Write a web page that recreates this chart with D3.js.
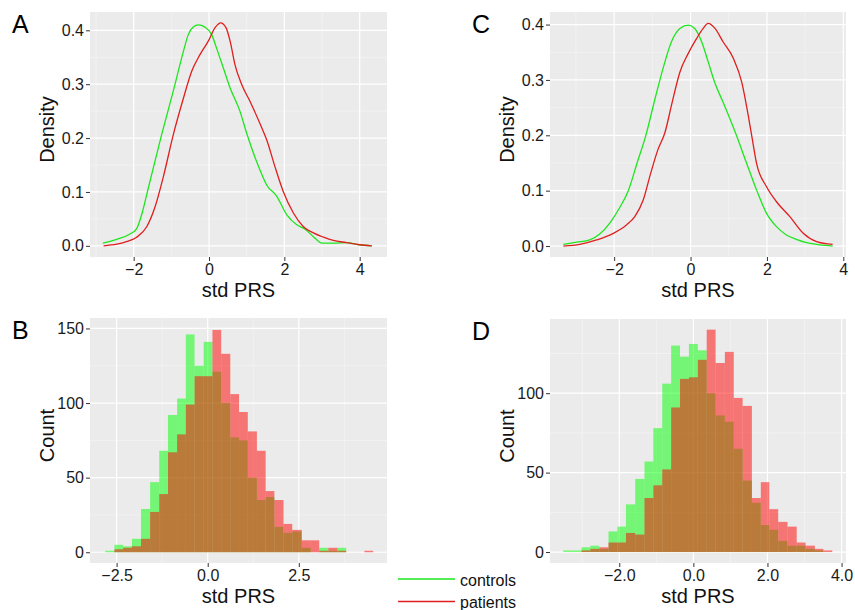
<!DOCTYPE html>
<html>
<head>
<meta charset="utf-8">
<script src="https://cdn.jsdelivr.net/npm/d3@7"></script>
<style>
body { margin:0; background:#fff; }
text { font-family: "Liberation Sans", Arial, sans-serif; }
</style>
</head>
<body>
<script>
// panel A: density, set 1
var aCtrlX = [-2.82,-2.45,-2.10,-1.92,-1.78,-1.62,-1.26,-0.95,-0.68,-0.55,-0.42,-0.28,-0.11,0.07,0.20,0.38,0.56,0.82,1.00,1.35,1.53,1.80,2.06,2.33,2.55,2.77,3.00,3.30,3.65,4.00,4.32];
var aCtrlY = [0.005,0.012,0.022,0.032,0.060,0.105,0.206,0.287,0.361,0.392,0.406,0.410,0.406,0.392,0.367,0.330,0.293,0.250,0.209,0.141,0.113,0.092,0.058,0.039,0.031,0.017,0.005,0.005,0.006,0.002,0.000];
var aPatX = [-2.80,-2.45,-2.19,-1.92,-1.65,-1.43,-1.21,-0.95,-0.68,-0.46,-0.24,-0.02,0.16,0.31,0.45,0.56,0.69,0.87,1.09,1.40,1.53,1.75,1.97,2.24,2.50,2.77,3.04,3.30,3.65,4.00,4.32];
var aPatY = [0.000,0.003,0.008,0.016,0.036,0.073,0.129,0.206,0.274,0.324,0.355,0.380,0.405,0.414,0.405,0.380,0.336,0.299,0.268,0.219,0.197,0.147,0.101,0.061,0.036,0.024,0.016,0.010,0.006,0.002,0.000];

// panel C: density, set 2
var cCtrlX = [-3.33,-2.98,-2.64,-2.37,-2.11,-1.85,-1.63,-1.40,-1.17,-0.93,-0.72,-0.50,-0.28,-0.06,0.11,0.29,0.46,0.64,0.85,1.20,1.47,1.73,1.99,2.25,2.51,2.77,3.04,3.39,3.72];
var cCtrlY = [0.003,0.007,0.011,0.022,0.042,0.070,0.100,0.150,0.200,0.266,0.321,0.369,0.393,0.399,0.393,0.369,0.333,0.294,0.260,0.200,0.149,0.101,0.059,0.035,0.020,0.012,0.006,0.002,0.000];
var cPatX = [-3.33,-2.90,-2.46,-2.02,-1.68,-1.46,-1.24,-1.05,-0.85,-0.67,-0.50,-0.28,-0.06,0.16,0.33,0.46,0.64,0.85,1.12,1.34,1.51,1.60,1.73,1.99,2.25,2.60,2.95,3.30,3.72];
var cPatY = [0.000,0.003,0.011,0.023,0.038,0.053,0.083,0.130,0.175,0.205,0.254,0.314,0.348,0.375,0.393,0.402,0.393,0.369,0.339,0.296,0.236,0.200,0.149,0.107,0.080,0.053,0.023,0.008,0.003];

// panel B: histogram, set 1 (bin edges + counts)
var bEdges = [-2.81,-2.56,-2.32,-2.08,-1.83,-1.58,-1.33,-1.09,-0.84,-0.60,-0.36,-0.11,0.13,0.37,0.62,0.86,1.10,1.35,1.59,1.83,2.08,2.32,2.58,2.83,3.06,3.31,3.56,3.80,4.05,4.30,4.54];
var bControls = [1,5,4,9,29,47,68,92,103,146,125,141,121,100,77,75,50,35,37,17,13,14,3,0,3,1,3,0,0,0];
var bPatients = [0,2,3,4,9,27,39,67,79,99,118,118,149,133,106,94,81,68,41,35,19,15,8,8,1,3,1,0,0,1];

// panel D: histogram, set 2
var dEdges = [-3.51,-3.27,-3.02,-2.78,-2.54,-2.29,-2.05,-1.82,-1.57,-1.32,-1.08,-0.84,-0.60,-0.36,-0.12,0.12,0.36,0.60,0.85,1.09,1.33,1.58,1.82,2.05,2.29,2.54,2.79,3.03,3.28,3.51,3.75];
var dControls = [1,1,3,4,2,13,16,30,46,57,78,106,130,123,131,127,100,86,82,65,45,31,17,14,7,4,4,2,1,0];
var dPatients = [0,0,1,2,3,6,6,12,11,34,42,52,91,109,110,121,140,119,126,97,92,34,44,27,19,16,6,4,2,1];

var seriesNames = ["controls","patients"];
var lineColors = ["#1ee61e","#e01e1e"];
var fillColors = ["#00ff00","#ff0000"];

var svg = d3.select("body").append("svg")
            .attr("width",855)
            .attr("height",610);

function minors(ticks, dom){
  var step = ticks[1]-ticks[0], out = [];
  ticks.forEach(function(t){ out.push(t-step/2); });
  out.push(ticks[ticks.length-1]+step/2);
  return out.filter(function(v){ return v>dom[0] && v<dom[1]; });
}

function makePanel(b){
  var x = d3.scaleLinear().domain(b.xd).range([b.l,b.r]);
  var y = d3.scaleLinear().domain(b.yd).range([b.b,b.t]);
  var g = svg.append("g");
  g.append("rect")
    .attr("x",b.l).attr("y",b.t)
    .attr("width",b.r-b.l).attr("height",b.b-b.t)
    .attr("fill","#ebebeb");

  // minor grid
  g.selectAll("line.vmin").data(minors(b.xt,b.xd)).enter().append("line")
    .attr("x1",function(d){return x(d);}).attr("x2",function(d){return x(d);})
    .attr("y1",b.t).attr("y2",b.b)
    .attr("stroke","#f7f7f7").attr("stroke-width",0.6);
  g.selectAll("line.hmin").data(minors(b.yt,b.yd)).enter().append("line")
    .attr("y1",function(d){return y(d);}).attr("y2",function(d){return y(d);})
    .attr("x1",b.l).attr("x2",b.r)
    .attr("stroke","#f7f7f7").attr("stroke-width",0.6);
  // major grid
  g.selectAll("line.vmaj").data(b.xt).enter().append("line")
    .attr("x1",function(d){return x(d);}).attr("x2",function(d){return x(d);})
    .attr("y1",b.t).attr("y2",b.b)
    .attr("stroke","#ffffff").attr("stroke-width",1.2);
  g.selectAll("line.hmaj").data(b.yt).enter().append("line")
    .attr("y1",function(d){return y(d);}).attr("y2",function(d){return y(d);})
    .attr("x1",b.l).attr("x2",b.r)
    .attr("stroke","#ffffff").attr("stroke-width",1.2);

  return {g:g, x:x, y:y, b:b};
}

function addAxes(p, xFmt, yFmt, yTitle, letter){
  var b = p.b;
  var ax = svg.append("g")
    .attr("transform","translate(0,"+b.b+")")
    .call(d3.axisBottom(p.x).tickValues(b.xt).tickFormat(d3.format(xFmt)).tickSize(4).tickPadding(3));
  var ay = svg.append("g")
    .attr("transform","translate("+b.l+",0)")
    .call(d3.axisLeft(p.y).tickValues(b.yt).tickFormat(d3.format(yFmt)).tickSize(4).tickPadding(2));
  [ax,ay].forEach(function(a){
    a.select(".domain").remove();
    a.selectAll("line").attr("stroke","#333");
    a.selectAll("text")
      .attr("font-size",16)
      .attr("font-family","Liberation Sans, Arial, sans-serif")
      .attr("fill","#1a1a1a");
  });

  svg.append("text")
    .attr("x",(b.l+b.r)/2)
    .attr("y",b.b+40)
    .attr("text-anchor","middle")
    .attr("font-size",20)
    .attr("fill","#111")
    .text("std PRS");

  svg.append("text")
    .attr("transform","translate("+(b.l-36)+","+((b.t+b.b)/2-5)+") rotate(-90)")
    .attr("text-anchor","middle")
    .attr("font-size",20)
    .attr("fill","#111")
    .text(yTitle);

  svg.append("text")
    .attr("x",b.l-78)
    .attr("y",b.t+21)
    .attr("font-size",25)
    .attr("fill","#000")
    .text(letter);
}

function drawDensity(p, xs, ys){
  var line = d3.line()
    .x(function(d){return p.x(d[0]);})
    .y(function(d){return p.y(d[1]);})
    .curve(d3.curveMonotoneX);
  xs.forEach(function(xv,k){
    var pts = xv.map(function(v,i){ return [v, ys[k][i]]; });
    p.g.append("path")
      .attr("d",line(pts))
      .attr("fill","none")
      .attr("stroke",lineColors[k])
      .attr("stroke-width",1.3);
  });
}

function drawHist(p, edges, counts){
  counts.forEach(function(c,k){
    p.g.selectAll("rect.s"+k)
      .data(c)
      .enter().append("rect")
        .attr("class","s"+k)
        .attr("x",function(d,i){return p.x(edges[i]);})
        .attr("width",function(d,i){return p.x(edges[i+1])-p.x(edges[i]);})
        .attr("y",function(d){return p.y(d);})
        .attr("height",function(d){return p.y(0)-p.y(d);})
        .attr("fill",fillColors[k])
        .attr("fill-opacity",0.5);
  });
}

var pA = makePanel({l:90,r:387,t:12,b:257,xd:[-3.16,4.725],yd:[-0.0207,0.434],xt:[-2,0,2,4],yt:[0,0.1,0.2,0.3,0.4]});
drawDensity(pA,[aCtrlX,aPatX],[aCtrlY,aPatY]);
addAxes(pA,"d",".1f","Density","A");

var pB = makePanel({l:90,r:387,t:318,b:563,xd:[-3.23,4.92],yd:[-7.2,157],xt:[-2.5,0,2.5],yt:[0,50,100,150]});
drawHist(pB,bEdges,[bControls,bPatients]);
addAxes(pB,".1f","d","Count","B");

var pC = makePanel({l:550,r:846,t:12,b:257,xd:[-3.68,4.07],yd:[-0.0198,0.4227],xt:[-2,0,2,4],yt:[0,0.1,0.2,0.3,0.4]});
drawDensity(pC,[cCtrlX,cPatX],[cCtrlY,cPatY]);
addAxes(pC,"d",".1f","Density","C");

var pD = makePanel({l:550,r:846,t:319,b:563,xd:[-3.87,4.12],yd:[-6.9,146.7],xt:[-2,0,2,4],yt:[0,50,100]});
drawHist(pD,dEdges,[dControls,dPatients]);
addAxes(pD,".1f","d","Count","D");

// legend
var leg = svg.append("g");
seriesNames.forEach(function(n,i){
  var ly = 579 + i*22.5;
  leg.append("line")
    .attr("x1",398).attr("x2",455)
    .attr("y1",ly).attr("y2",ly)
    .attr("stroke",lineColors[i])
    .attr("stroke-width",1.5);
  leg.append("text")
    .attr("x",460).attr("y",ly+6.5)
    .attr("font-size",16)
    .attr("fill","#111")
    .text(n);
});
</script>
</body>
</html>
